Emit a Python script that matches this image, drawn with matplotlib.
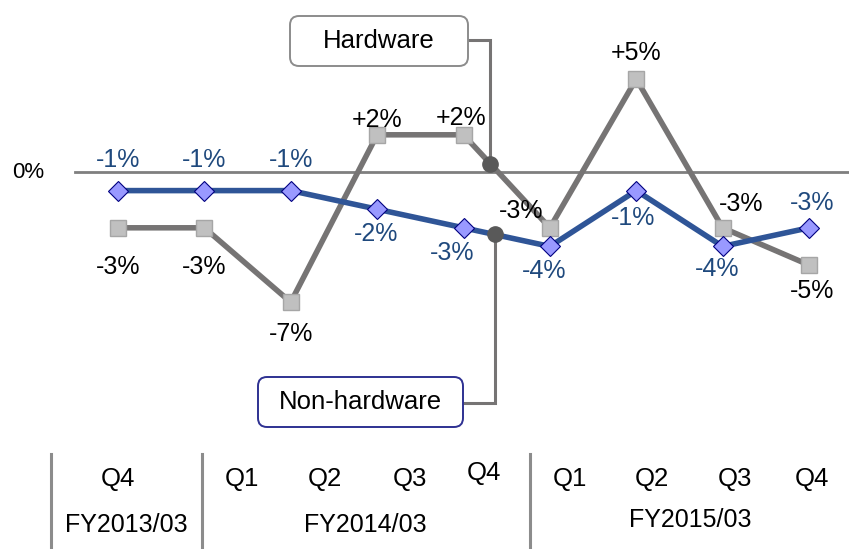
import matplotlib.pyplot as plt
import matplotlib.transforms as mtransforms
from matplotlib.patches import FancyBboxPatch
import numpy as np

plt.rcParams['font.family'] = ['Liberation Sans', 'DejaVu Sans']

# year-on-year change, %, by quarter
quarters = ['Q4', 'Q1', 'Q2', 'Q3', 'Q4', 'Q1', 'Q2', 'Q3', 'Q4']
fiscal_years = ['FY2013/03', 'FY2014/03', 'FY2015/03']
hardware = [-3, -3, -7, 2, 2, -3, 5, -3, -5]
non_hardware = [-1, -1, -1, -2, -3, -4, -1, -4, -3]

# label offsets in points (dx, dy)
hw_offsets = [(0, -28), (0, -28), (0, -23), (0, 11), (-2, 12), (-21, 12), (0, 19), (13, 17), (2, -19)]
nh_offsets = [(0, 22), (0, 22), (0, 22), (-1, -18), (-8, -18), (-4, -18), (-2, -20), (-4, -16), (2, 18)]

W, H = 849, 549
x0, dx = 118, 86.375
y0, dy = 172, 18.6

fig = plt.figure(figsize=(W / 100, H / 100), dpi=100)
ax = fig.add_axes([0, 0, 1, 1])
ax.set_xlim(-x0 / dx, (W - x0) / dx)
ax.set_ylim(-(H - y0) / dy, y0 / dy)
ax.axis('off')

# pixel coordinates measured from the top-left corner
pix = mtransforms.Affine2D().scale(1, -1).translate(0, H)

x = np.arange(len(quarters))
gray = '#767474'
blue = '#2f5597'
navy_text = '#1f497d'

ax.axhline(0, xmin=75 / W, xmax=1, color='#7f7f7f', lw=2, zorder=1)
ax.text(28, 172, '0%', transform=pix, ha='center', va='center', fontsize=16)

ax.plot(x, hardware, color=gray, lw=4, marker='s', ms=12, mfc='#c0c0c0',
        mec='#a6a6a6', mew=1, zorder=3, solid_joinstyle='miter')
ax.plot(x, non_hardware, color=blue, lw=4, marker='D', ms=10.5, mfc='#9999ff',
        mec='#000080', mew=0.8, zorder=4)

for xi, v, off in zip(x, hardware, hw_offsets):
    ax.annotate(f'{v:+d}%' if v > 0 else f'{v}%', (xi, v), xytext=off,
                textcoords='offset points', ha='center', va='center',
                fontsize=18, color='black', zorder=6)
for xi, v, off in zip(x, non_hardware, nh_offsets):
    ax.annotate(f'{v}%', (xi, v), xytext=off, textcoords='offset points',
                ha='center', va='center', fontsize=18, color=navy_text, zorder=6)

# callout boxes with elbow connectors to a dot on each line
to_pix = ax.transData + pix.inverted()


def callout(text, box, edge, xd, series, ybox):
    bx, by, bw, bh = box
    p = FancyBboxPatch((bx, by), bw, bh, boxstyle='round,pad=0,rounding_size=9',
                       transform=pix, fc='white', ec=edge, lw=1.4, zorder=5)
    ax.add_patch(p)
    ax.text(bx + bw / 2, by + bh / 2, text, transform=pix, ha='center',
            va='center', fontsize=18.5, zorder=6)
    yd = np.interp(xd, x, series)
    px_, py_ = to_pix.transform((xd, yd))
    ax.plot([bx + bw, px_, px_], [ybox, ybox, py_], transform=pix,
            color=gray, lw=2.2, zorder=2, solid_joinstyle='miter')
    ax.plot(xd, yd, 'o', color='#595959', ms=11, zorder=5)


callout('Hardware', (290, 16, 178, 50), '#8c8c8c', 4.31, hardware, 40)
callout('Non-hardware', (258, 377, 205, 50), '#2e3192', 4.36, non_hardware, 403)

# category table under the chart
q_pos = [118, 242, 325, 410, 484, 570, 652, 735, 812]
q_y = [479, 479, 479, 479, 473, 479, 479, 479, 479]
for q, qx, qy in zip(quarters, q_pos, q_y):
    ax.text(qx, qy, q, transform=pix, ha='center', va='center', fontsize=18.5)
fy_pos = [(126, 525), (365, 525), (690, 520)]
for fy, (fx, fy_y) in zip(fiscal_years, fy_pos):
    ax.text(fx, fy_y, fy, transform=pix, ha='center', va='center', fontsize=18)
for sx in [51, 202, 530]:
    ax.plot([sx, sx], [454, H], transform=pix, color='#8c8c8c', lw=2.2)

fig.savefig('out.png', dpi=100)
